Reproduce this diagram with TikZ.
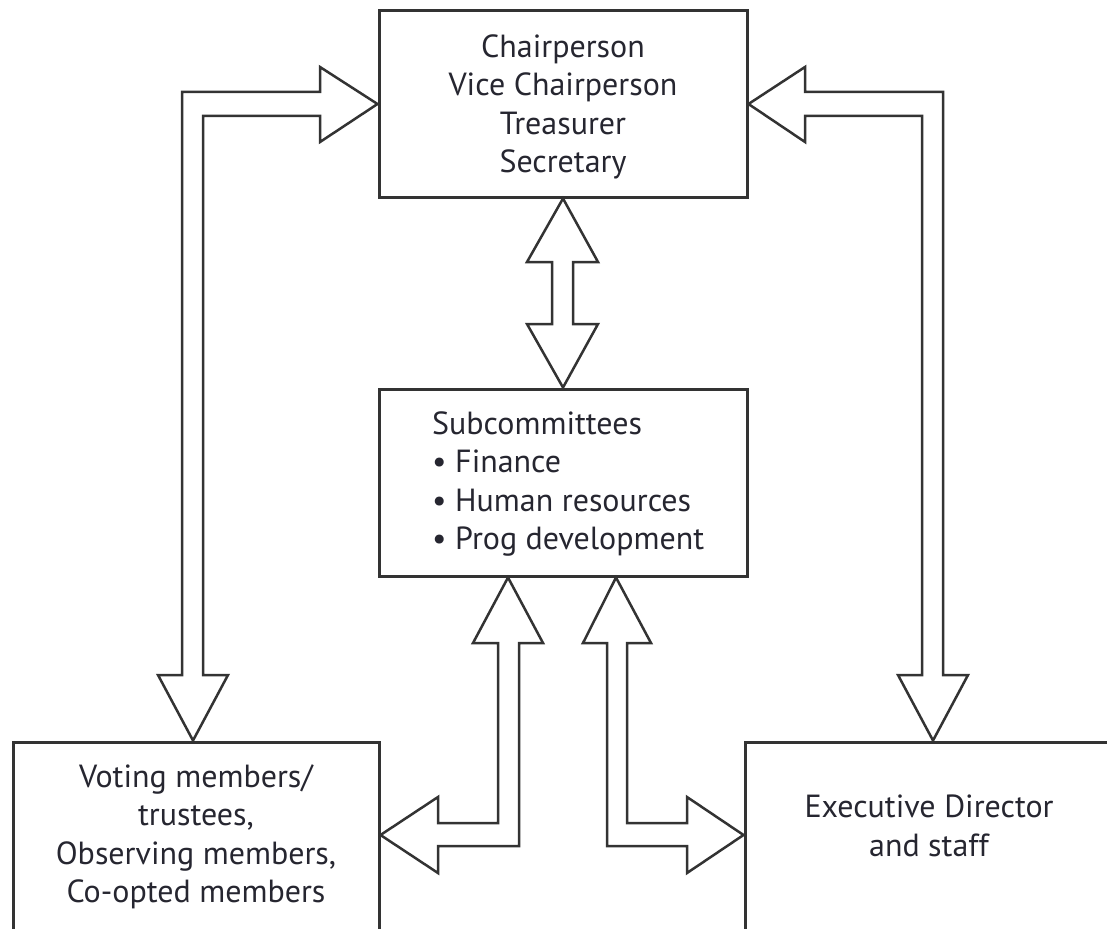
\documentclass[tikz,border=0pt]{standalone}
\usepackage{fontspec}
\setmainfont{PT Sans}
\definecolor{ink}{HTML}{262630}
\definecolor{edge}{HTML}{333333}
\begin{document}
\begin{tikzpicture}[x=1pt,y=-1pt,
  box/.style={draw=edge,line width=3pt,minimum width=#1,inner sep=0pt},
  txt/.style={text=ink,font=\fontsize{32}{38.5}\selectfont,inner sep=0pt},
  hollow/.style={draw=edge,line width=2.5pt,line join=miter,fill=white}]
\useasboundingbox (0,0) rectangle (1107,928);
\clip (0,0) rectangle (1107,928);
% boxes
\node[box=368pt,minimum height=186pt] (top) at (563,104) {};
\node[box=368pt,minimum height=187pt] (mid) at (563,482.5) {};
\node[box=366pt,minimum height=196pt] (vote) at (196,840) {};
\node[box=370pt,minimum height=196pt] (exec) at (930,840) {};
% texts
\node[txt,align=center] (topT) at (563,107) {Chairperson\\Vice Chairperson\\Treasurer\\Secretary};
\node[txt,align=left,anchor=west] (midT) at (432,484) {Subcommittees\\\textbullet\ Finance\\\textbullet\ Human resources\\\textbullet\ Prog development};
\node[txt,align=center] (voteT) at (196,837) {Voting members/\\trustees,\\Observing members,\\Co-opted members};
\node[txt,align=center] (execT) at (929,826) {Executive Director\\and staff};
% arrows
\draw[hollow] (top.west) -- (320,67) -- (320,92) -- (182,92) -- (182,675) -- (158,675)
  -- ([xshift=-3pt]vote.north) -- (228,675) -- (203,675) -- (203,116) -- (320,116) -- (320,142) -- cycle;
\draw[hollow] (top.east) -- (805,67) -- (805,92) -- (943,92) -- (943,675) -- (968,675)
  -- ([xshift=3pt]exec.north) -- (898,675) -- (922,675) -- (922,116) -- (805,116) -- (805,142) -- cycle;
\draw[hollow] (top.south) -- (598,262) -- (573,262) -- (573,324) -- (598,324) -- (mid.north)
  -- (527,324) -- (552,324) -- (552,262) -- (527,262) -- cycle;
\draw[hollow] ([xshift=-55pt]mid.south) -- (543,643) -- (519,643) -- (519,846) -- (438,846) -- (438,873)
  -- ([yshift=5pt]vote.east) -- (438,797) -- (438,823) -- (498,823) -- (498,643) -- (473,643) -- cycle;
\draw[hollow] ([xshift=53pt]mid.south) -- (651,643) -- (627,643) -- (627,823) -- (687,823) -- (687,797)
  -- ([yshift=5pt]exec.west) -- (687,873) -- (687,846) -- (607,846) -- (607,643) -- (583,643) -- cycle;
\end{tikzpicture}
\end{document}
